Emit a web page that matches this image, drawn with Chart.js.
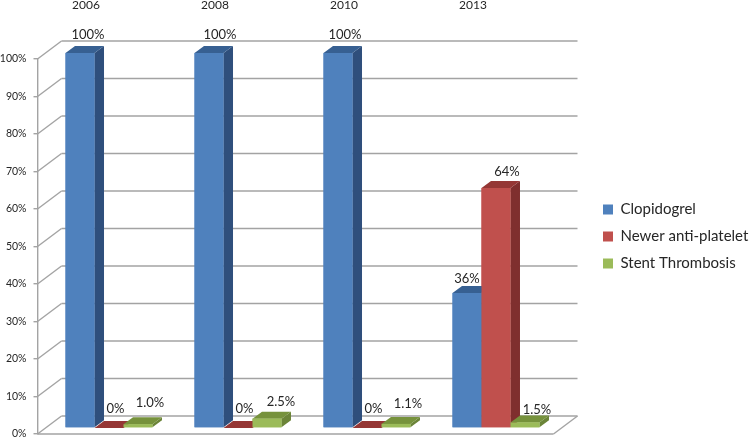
<!DOCTYPE html>
<html>
<head>
<meta charset="utf-8">
<title>Antiplatelet use by year</title>
<script src="https://cdn.jsdelivr.net/npm/chart.js@4/dist/chart.umd.min.js"></script>
<style>
  html, body { margin: 0; padding: 0; background: #fff; }
  canvas { display: block; }
</style>
</head>
<body>
<canvas id="myChart" width="750" height="438"></canvas>
<script>
var years = ['2006', '2008', '2010', '2013'];
var clopidogrel = [100, 100, 100, 36];
var newerAnti = [0, 0, 0, 64];
var stentThrombosis = [1.0, 2.5, 1.1, 1.5];
var yTicks = [0, 10, 20, 30, 40, 50, 60, 70, 80, 90, 100];

// depth of the fake 3D box, the scales are the front plane of it
var WALL_DX = 24, WALL_DY = -18;
var BAR_DX = 7, BAR_DY = -6;
var SIDE_DX = 9.5, SIDE_DY = -7;

var FONT = 'Lato, Carlito, sans-serif';
var GRID = '#a3a3a3';
var TEXT = '#262626';

// x,y nudge of each value label from the top centre of its bar
var labelNudge = [
  [[8, -18], [11, -18], [7, -18], [0, -14]],
  [[6.5, -19], [6.5, -19], [6.5, -19], [11, -16]],
  [[12, -21], [14, -17], [12, -20], [12, -13]]
];
var sideColors = ['#2f4f7c', '#7f2f2e', '#6b8438'];
var topColors = ['#376092', '#953735', '#76923c'];
var frontColors = ['#4f81bd', '#c0504d', '#9bbb59'];

function line(ctx, x1, y1, x2, y2) {
  ctx.beginPath();
  ctx.moveTo(x1, y1);
  ctx.lineTo(x2, y2);
  ctx.stroke();
}

function poly(ctx, pts, color) {
  ctx.fillStyle = color;
  ctx.beginPath();
  ctx.moveTo(pts[0], pts[1]);
  for (let i = 2; i < pts.length; i += 2) {
    ctx.lineTo(pts[i], pts[i + 1]);
  }
  ctx.closePath();
  ctx.fill();
}

function valueText(ds, val) {
  return ds == 2 ? val.toFixed(1) + '%' : val + '%';
}

const box3d = {
  id: 'box3d',
  beforeDatasetsDraw(chart) {
    const ctx = chart.ctx;
    const a = chart.chartArea;
    const y = chart.scales.y;
    ctx.save();
    ctx.strokeStyle = GRID;
    ctx.lineWidth = 1.4;
    yTicks.forEach(t => {
      let py = y.getPixelForValue(t);
      line(ctx, a.left, py, a.left + WALL_DX, py + WALL_DY);
      line(ctx, a.left + WALL_DX, py + WALL_DY, a.right + WALL_DX, py + WALL_DY);
    });
    // floor
    line(ctx, a.left, a.bottom, a.right, a.bottom);
    line(ctx, a.right, a.bottom, a.right + WALL_DX, a.bottom + WALL_DY);
    ctx.restore();
    // bars stand a bit inside the box
    ctx.save();
    ctx.translate(BAR_DX, BAR_DY);
  },
  afterDatasetsDraw(chart) {
    const ctx = chart.ctx;
    // paint left to right so nearer bars hide the sides of the previous one
    for (let c = 0; c < years.length; c++) {
      for (let d = 0; d < 3; d++) {
        let b = chart.getDatasetMeta(d).data[c];
        let l = b.x - b.width / 2, r = b.x + b.width / 2;
        poly(ctx, [r, b.y, r + SIDE_DX, b.y + SIDE_DY, r + SIDE_DX, b.base + SIDE_DY, r, b.base], sideColors[d]);
        poly(ctx, [l, b.y, l + SIDE_DX, b.y + SIDE_DY, r + SIDE_DX, b.y + SIDE_DY, r, b.y], topColors[d]);
        poly(ctx, [l, b.y, r, b.y, r, b.base, l, b.base], frontColors[d]);
      }
    }
    ctx.fillStyle = TEXT;
    ctx.font = '13px ' + FONT;
    ctx.textAlign = 'center';
    ctx.textBaseline = 'middle';
    chart.data.datasets.forEach((set, d) => {
      set.data.forEach((val, c) => {
        let b = chart.getDatasetMeta(d).data[c];
        let n = labelNudge[d][c];
        ctx.fillText(valueText(d, val), b.x + n[0], b.y + n[1]);
      });
    });
    ctx.restore();
  },
  afterLayout(chart) {
    // legend sits away from the box, Chart.js would glue it to the plot
    const lg = chart.legend;
    lg.left = 591;
    lg.top = 190;
    lg.right = 750;
    lg.bottom = 300;
    lg.width = lg.right - lg.left;
    lg.height = lg.bottom - lg.top;
  }
};

var ctx = document.getElementById('myChart');
var chart = new Chart(ctx, {
  type: 'bar',
  data: {
    labels: years,
    datasets: [
      { label: 'Clopidogrel', data: clopidogrel, backgroundColor: frontColors[0] },
      { label: 'Newer anti-platelet', data: newerAnti, backgroundColor: frontColors[1] },
      { label: 'Stent Thrombosis', data: stentThrombosis, backgroundColor: frontColors[2] }
    ]
  },
  plugins: [box3d],
  options: {
    responsive: false,
    animation: false,
    categoryPercentage: 0.674,
    barPercentage: 1,
    layout: { padding: { left: 0, right: 76.5, top: 0, bottom: 4 } },
    plugins: {
      title: { display: false },
      tooltip: { enabled: false },
      legend: {
        display: true,
        position: 'right',
        align: 'start',
        maxWidth: 120,
        labels: {
          boxWidth: 10,
          boxHeight: 10,
          padding: 12,
          color: TEXT,
          font: { family: FONT, size: 15 }
        }
      }
    },
    scales: {
      x: {
        position: 'top',
        afterFit(s) { s.height = 59; s.paddingLeft = 0; s.paddingRight = 0; },
        grid: { display: false, drawTicks: false },
        border: { display: false },
        ticks: {
          color: TEXT,
          padding: 47,
          labelOffset: -16,
          maxRotation: 0,
          font: { family: FONT, size: 12 }
        }
      },
      y: {
        min: 0,
        max: 100,
        afterFit(s) { s.width = 37.5; s.paddingTop = 0; s.paddingBottom = 0; },
        grid: { drawOnChartArea: false, color: GRID, tickLength: 4, lineWidth: 1.4 },
        border: { color: GRID, width: 1.4 },
        ticks: {
          color: TEXT,
          stepSize: 10,
          padding: 7,
          font: { family: FONT, size: 10.5 },
          callback: v => v + '%'
        }
      }
    }
  }
});
</script>
</body>
</html>
